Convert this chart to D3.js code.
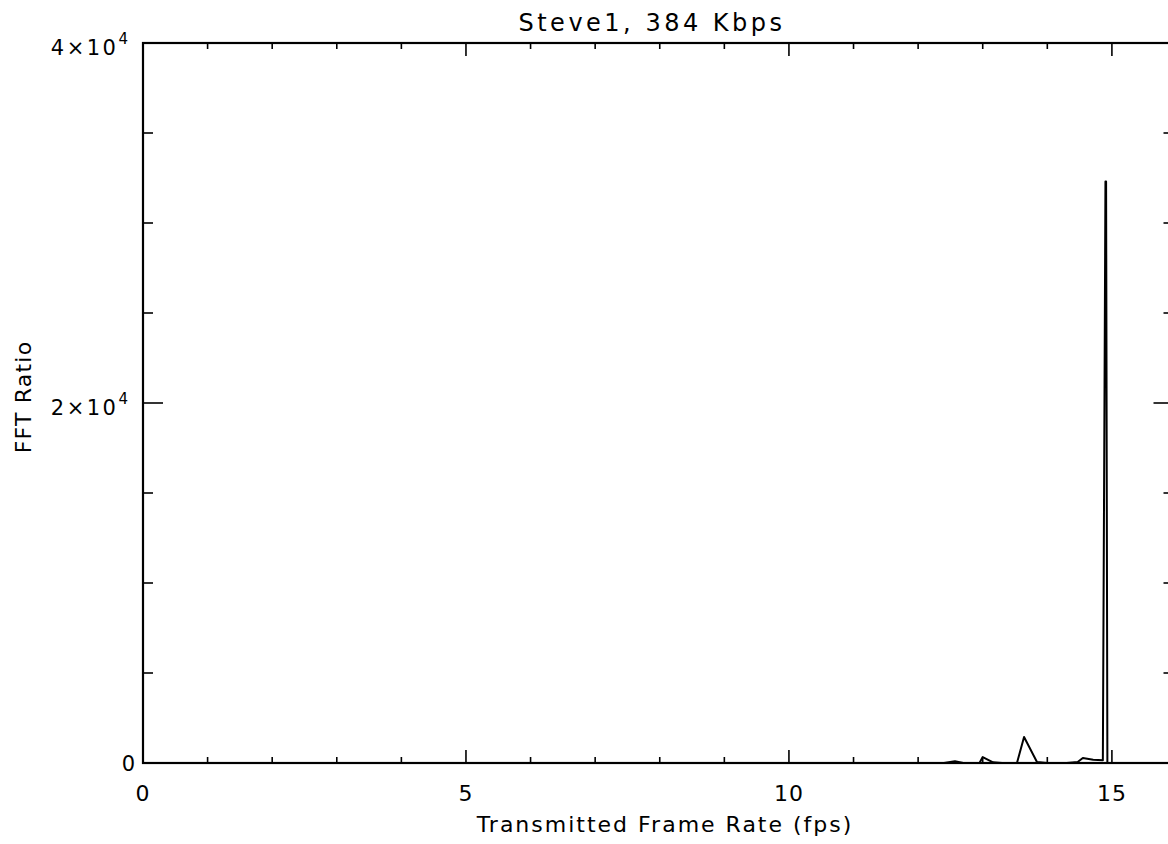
<!DOCTYPE html>
<html>
<head>
<meta charset="utf-8">
<script src="https://cdn.jsdelivr.net/npm/d3@7"></script>
<style>
  html, body { margin: 0; padding: 0; background: #fff; }
  svg { display: block; }
  text { font-family: "DejaVu Sans", "Liberation Sans", sans-serif; fill: #000; }
</style>
</head>
<body>
<svg id="chart" width="1168" height="844"></svg>
<script>
// ---- data ----
const chartTitle = "Steve1, 384 Kbps";
const xTitle = "Transmitted Frame Rate (fps)";
const yTitle = "FFT Ratio";
const frameRate = [0, 12.4, 12.57, 12.7, 12.95, 13.0, 13.16, 13.3, 13.53, 13.64, 13.84, 14.0, 14.3, 14.47, 14.55, 14.71, 14.86, 14.9, 14.91, 14.93, 16];
const fftRatio  = [0, 0, 100, 0, 0, 330, 40, 0, 0, 1440, 60, 0, 0, 60, 280, 180, 150, 32300, 32300, 0, 0];
const xMajorTicks = [0, 5, 10, 15];
const xMinorTicks = [1, 2, 3, 4, 6, 7, 8, 9, 11, 12, 13, 14];
const yMajorTicks = [0, 20000, 40000];
const yMajorLabels = [["0", ""], ["2×10", "4"], ["4×10", "4"]];
const yMinorTicks = [5000, 10000, 15000, 25000, 30000, 35000];

// ---- layout ----
const svg = d3.select("#chart");
const pL = 143, pR = 1176.5, pT = 43, pB = 763;
const x = d3.scaleLinear().domain([0, 16]).range([pL, pR]);
const y = d3.scaleLinear().domain([0, 40000]).range([pB, pT]);

const ink = "#000";
const g = svg.append("g");

// frame
g.append("rect")
  .attr("x", pL).attr("y", pT)
  .attr("width", pR - pL).attr("height", pB - pT)
  .attr("fill", "none").attr("stroke", ink).attr("stroke-width", 2.2);

// x ticks bottom & top
const xTicks = xMajorTicks.map(v => ({v, len: 13})).concat(xMinorTicks.map(v => ({v, len: 6})));
g.selectAll(".xtb").data(xTicks).join("line")
  .attr("x1", d => x(d.v)).attr("x2", d => x(d.v))
  .attr("y1", pB).attr("y2", d => pB - d.len)
  .attr("stroke", ink).attr("stroke-width", 1.6);
g.selectAll(".xtt").data(xTicks).join("line")
  .attr("x1", d => x(d.v)).attr("x2", d => x(d.v))
  .attr("y1", pT).attr("y2", d => pT + d.len)
  .attr("stroke", ink).attr("stroke-width", 1.6);

// y ticks left & right
const yTicks = yMajorTicks.map(v => ({v, len: 20})).concat(yMinorTicks.map(v => ({v, len: 10})));
g.selectAll(".ytl").data(yTicks).join("line")
  .attr("x1", pL).attr("x2", d => pL + d.len)
  .attr("y1", d => y(d.v)).attr("y2", d => y(d.v))
  .attr("stroke", ink).attr("stroke-width", 1.6);
g.selectAll(".ytr").data(yTicks).join("line")
  .attr("x1", pR).attr("x2", d => pR - d.len - 3)
  .attr("y1", d => y(d.v)).attr("y2", d => y(d.v))
  .attr("stroke", ink).attr("stroke-width", 1.6);

// x tick labels
g.selectAll(".xl").data(xMajorTicks).join("text")
  .attr("x", d => x(d)).attr("y", 801)
  .attr("text-anchor", "middle").attr("font-size", 22)
  .attr("letter-spacing", 1)
  .text(d => d);

// y tick labels
yMajorTicks.forEach((v, i) => {
  const [base, sup] = yMajorLabels[i];
  const t = g.append("text")
    .attr("x", sup ? 128 : 135).attr("y", y(v) + (sup ? 12 : 8))
    .attr("text-anchor", "end").attr("font-size", 21)
    .attr("letter-spacing", sup ? 2.5 : 0);
  t.append("tspan").text(base);
  if (sup) t.append("tspan").attr("dy", -11).attr("font-size", 15).attr("letter-spacing", 0).text(sup);
});

// titles
svg.append("text").attr("x", 652).attr("y", 31)
  .attr("text-anchor", "middle").attr("font-size", 24)
  .attr("letter-spacing", 3.5).text(chartTitle);
svg.append("text").attr("x", 665).attr("y", 832)
  .attr("text-anchor", "middle").attr("font-size", 22)
  .attr("letter-spacing", 2).text(xTitle);
svg.append("text")
  .attr("transform", "translate(31,397) rotate(-90)")
  .attr("text-anchor", "middle").attr("font-size", 22)
  .attr("letter-spacing", 1.2).text(yTitle);

// data line
const line = d3.line().x((d, i) => x(frameRate[i])).y((d, i) => y(fftRatio[i]));
g.append("path")
  .datum(fftRatio)
  .attr("d", line)
  .attr("fill", "none").attr("stroke", ink).attr("stroke-width", 2)
  .attr("stroke-linejoin", "round");
</script>
</body>
</html>
